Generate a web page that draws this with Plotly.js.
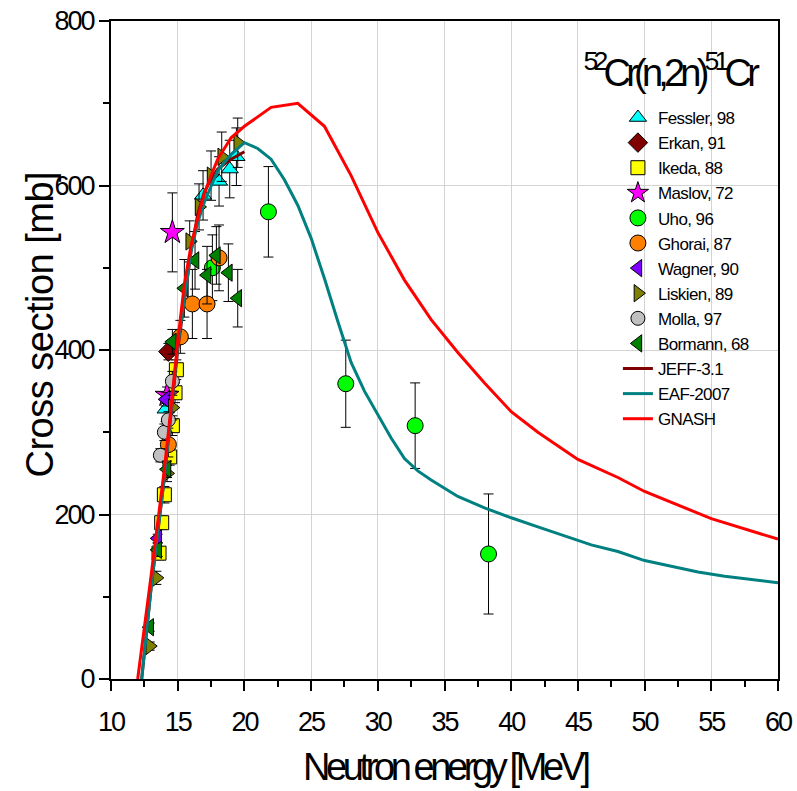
<!DOCTYPE html>
<html><head><meta charset="utf-8">
<script src="https://cdn.plot.ly/plotly-3.0.1.min.js"></script>
<style>
body{margin:0;background:#fff}
.xtick text, .ytick text {letter-spacing:-2px}
.legendtext {letter-spacing:-0.6px}
.annotation-text.cond {letter-spacing:-4.4px}
.annotation-text.tcond {letter-spacing:-4.8px}
.annotation-text.ycond {letter-spacing:-0.5px}
</style>
</head><body><div id="chart" style="width:797px;height:791px"></div>
<script>
// ---- data ----
const fesslerX = [14.1, 16.9, 18.1, 18.9, 19.4];
const fesslerY = [328, 588, 605, 620, 635];
const fesslerE = [15, 30, 30, 35, 35];
const erkanX = [14.3];
const erkanY = [398];
const erkanE = [10];
const ikedaX = [13.6, 13.8, 14.0, 14.4, 14.6, 14.8, 14.9];
const ikedaY = [153, 190, 224, 270, 308, 348, 376];
const ikedaE = [8, 8, 10, 10, 12, 12, 12];
const maslovX = [14.2, 14.6];
const maslovY = [345, 543];
const maslovE = [10, 48];
const uhoX = [17.6, 21.8, 27.6, 32.8, 38.3];
const uhoY = [500, 568, 359, 308, 152];
const uhoE = [40, 55, 53, 52, 73];
const ghoraiX = [14.3, 15.2, 16.1, 17.2, 18.1];
const ghoraiY = [285, 416, 456, 456, 512];
const ghoraiE = [15, 20, 42, 42, 40];
const wagnerX = [13.5, 14.1];
const wagnerY = [171, 340];
const wagnerE = [5, 8];
const liskienX = [12.9, 13.4, 14.2, 14.6, 15.9, 16.6, 17.5, 18.3, 19.5];
const liskienY = [40, 123, 250, 330, 532, 574, 612, 635, 652];
const liskienE = [5, 8, 10, 15, 25, 28, 30, 30, 30];
const mollaX = [13.7, 14.0, 14.3, 14.6];
const mollaY = [272, 300, 315, 362];
const mollaE = [8, 10, 10, 12];
const bormannX = [12.9, 13.5, 14.2, 14.6, 15.5, 16.3, 17.2, 17.9, 18.8, 19.5];
const bormannY = [63, 157, 255, 410, 475, 509, 491, 515, 494, 463];
const bormannE = [5, 8, 10, 15, 35, 35, 35, 35, 35, 35];

const jeffX = [12.3, 13, 14, 15, 16, 16.5, 17, 17.5, 18, 19, 20];
const jeffY = [0, 110, 245, 400, 520, 565, 592, 608, 620, 632, 641];
const eafX = [12.3, 13, 14, 15, 16, 16.5, 17, 17.5, 18, 19, 20, 21, 22, 23, 24, 25, 26, 27, 28, 29, 30, 31, 32, 33, 34, 36, 38, 40, 42, 44, 45, 46, 48, 50, 52, 54, 56, 58, 60];
const eafY = [0, 110, 245, 405, 520, 555, 580, 600, 618, 638, 652, 645, 632, 607, 576, 536, 487, 435, 385, 350, 322, 293, 268, 253, 242, 222, 208, 196, 185, 174, 168, 163, 155, 144, 137, 130, 125, 121, 117];
const gnashX = [12, 12.5, 13, 13.5, 14, 14.5, 15, 15.5, 16, 16.5, 17, 17.5, 18, 19, 20, 22, 24, 26, 28, 30, 32, 34, 36, 38, 40, 42, 45, 48, 50, 55, 60];
const gnashY = [0, 60, 125, 190, 255, 330, 410, 480, 527, 560, 590, 612, 632, 658, 672, 695, 700, 672, 612, 543, 485, 437, 397, 360, 325, 300, 267, 245, 228, 195, 170];

const FONT = '"Liberation Sans", Arial, sans-serif';

function pts(name, x, y, e, symbol, color, size) {
  return {
    type: 'scatter', mode: 'markers', name: name, x: x, y: y,
    error_y: {type: 'data', array: e, visible: true, color: '#000', thickness: 1, width: 5},
    marker: {symbol: symbol, color: color, size: size || 15, line: {color: '#000', width: 1}}
  };
}
function line(name, x, y, color) {
  return {type: 'scatter', mode: 'lines', name: name, x: x, y: y, line: {color: color, width: 3}};
}

const traces = [
  pts('Fessler, 98', fesslerX, fesslerY, fesslerE, 'triangle-up', '#00ffff'),
  pts('Erkan, 91', erkanX, erkanY, erkanE, 'diamond', '#800000', 15),
  pts('Ikeda, 88', ikedaX, ikedaY, ikedaE, 'square', '#ffff00', 14),
  pts('Maslov, 72', maslovX, maslovY, maslovE, 'star', '#ff00ff', 18),
  pts('Uho, 96', uhoX, uhoY, uhoE, 'circle', '#00ff00', 16),
  pts('Ghorai, 87', ghoraiX, ghoraiY, ghoraiE, 'circle', '#ff8000', 16),
  pts('Wagner, 90', wagnerX, wagnerY, wagnerE, 'triangle-left', '#8000ff'),
  pts('Liskien, 89', liskienX, liskienY, liskienE, 'triangle-right', '#808000'),
  pts('Molla, 97', mollaX, mollaY, mollaE, 'circle', '#c0c0c0', 14),
  pts('Bormann, 68', bormannX, bormannY, bormannE, 'triangle-left', '#008000'),
  line('JEFF-3.1', jeffX, jeffY, '#800000'),
  line('EAF-2007', eafX, eafY, '#008080'),
  line('GNASH', gnashX, gnashY, '#ff0000')
];

const layout = {
  width: 797, height: 791,
  margin: {l: 111, r: 19, t: 21, b: 112},
  paper_bgcolor: '#fff', plot_bgcolor: '#fff',
  font: {family: FONT, color: '#000'},
  showlegend: true,
  legend: {x: 0.760, y: 0.880, xanchor: 'left', yanchor: 'top', bgcolor: 'rgba(0,0,0,0)',
           font: {family: FONT, size: 17, color: '#000'}, tracegroupgap: 0, itemwidth: 30},
  xaxis: {range: [10, 60], dtick: 5, tick0: 10, showgrid: true, gridcolor: '#d3d3d3', gridwidth: 1,
          showline: true, linecolor: '#000', linewidth: 2, mirror: true, zeroline: false,
          ticks: 'outside', ticklen: 10, tickwidth: 2, tickcolor: '#000', ticklabelstandoff: 8,
          minor: {dtick: 2.5, ticklen: 6, tickwidth: 2, tickcolor: '#000', showgrid: false},
          tickfont: {family: FONT, size: 27}},
  yaxis: {range: [0, 800], dtick: 200, showgrid: true, gridcolor: '#d3d3d3', gridwidth: 1,
          showline: true, linecolor: '#000', linewidth: 2, mirror: true, zeroline: false,
          ticks: 'outside', ticklen: 10, tickwidth: 2, tickcolor: '#000',
          minor: {dtick: 100, ticklen: 6, tickwidth: 2, tickcolor: '#000', showgrid: false},
          tickfont: {family: FONT, size: 27}},
  shapes: [{type: 'rect', xref: 'paper', yref: 'paper', x0: 0.752, x1: 0.965, y0: 0.36, y1: 0.995,
            fillcolor: '#fff', line: {width: 0}, layer: 'between'}],
  annotations: [
    {xref: 'paper', yref: 'paper', x: 0.8366, y: 0.9255, xanchor: 'center', yanchor: 'middle',
     showarrow: false, text: '<sup>52</sup>Cr(n,2n)<sup>51</sup>Cr',
     font: {family: FONT, size: 38, color: '#000'}},
    {xref: 'paper', yref: 'paper', x: 0.5, y: -0.1337, xanchor: 'center', yanchor: 'middle',
     showarrow: false, text: 'Neutron energy [MeV]', font: {family: FONT, size: 38, color: '#000'}},
    {xref: 'paper', yref: 'paper', x: -0.1064, y: 0.538, xanchor: 'center', yanchor: 'middle',
     showarrow: false, textangle: -90, text: 'Cross section [mb]', font: {family: FONT, size: 38, color: '#000'}}
  ]
};

Plotly.newPlot('chart', traces, layout, {displayModeBar: false, staticPlot: true}).then(function () {
  const a = document.querySelectorAll('.annotation-text');
  if (a[0]) a[0].classList.add('tcond');
  if (a[1]) a[1].classList.add('cond');
  if (a[2]) a[2].classList.add('ycond');
});
</script></body></html>
